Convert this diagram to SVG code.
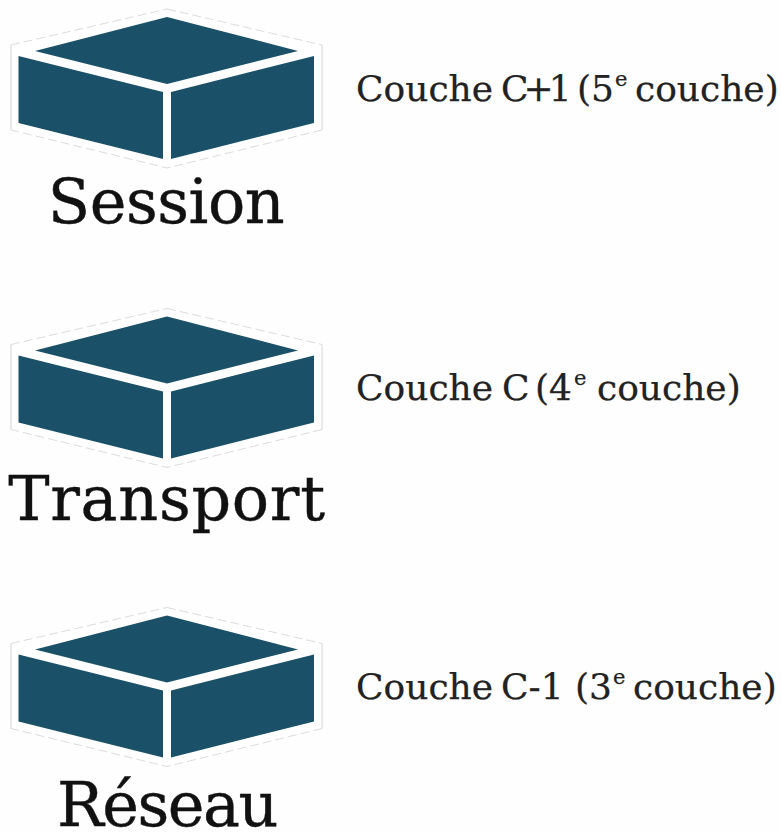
<svg xmlns="http://www.w3.org/2000/svg" width="781" height="832" viewBox="0 0 781 832">
<style>
.b{fill:#fff}
.v{fill:none;stroke:#d4d4d4;stroke-width:1}
.d{fill:none;stroke:#dcdcdc;stroke-width:1;stroke-dasharray:9 4}
.f{fill:#1a5068}
.n{font-family:"DejaVu Serif","Liberation Serif",serif;font-size:62px;fill:#111;stroke:#111;stroke-width:.4;text-anchor:middle}
.l{font-family:"DejaVu Serif","Liberation Serif",serif;font-size:36px;fill:#222;stroke:#222;stroke-width:.25}
.s{font-size:21px}
</style>
<defs>
<g id="box">
<path class="b" d="M167 9L322 45V130L167 168L11 130V45Z"/>
<path class="v" d="M322 45V130M11 130V45"/>
<path class="d" d="M167 9L322 45M322 130L167 168L11 130M11 45L167 9"/>
<path class="f" d="M167 17L298 51L167 84L35 51Z"/>
<path class="f" d="M18.500 56L163 92V159L18.500 123Z"/>
<path class="f" d="M171 92L314 56V123L171 159Z"/>
</g>
</defs>
<rect width="781" height="832" fill="#fefefe"/>
<g id="connectors"/>
<g id="session"><use href="#box"/><text class="n" x="166" y="223" letter-spacing="-.5">Session</text></g>
<g id="transport"><use href="#box" y="299.500"/><text class="n" x="167" y="520" letter-spacing=".7">Transport</text></g>
<g id="reseau"><use href="#box" y="598.500"/><text class="n" x="167" y="826" letter-spacing="-1.5">Réseau</text></g>
<g id="label-c1"><text class="l" x="356" y="101">Couche <tspan x="501" letter-spacing="-5">C+1</tspan> <tspan x="577">(5</tspan><tspan class="s" x="615" dy="-15">e</tspan> <tspan x="635" dy="15">couche)</tspan></text></g>
<g id="label-c"><text class="l" x="356" y="400">Couche <tspan x="502">C</tspan> <tspan x="535">(4</tspan><tspan class="s" x="574" dy="-15">e</tspan> <tspan x="597" dy="15">couche)</tspan></text></g>
<g id="label-c-1"><text class="l" x="356" y="699">Couche <tspan x="501">C-1</tspan> <tspan x="575">(3</tspan><tspan class="s" x="613" dy="-15">e</tspan> <tspan x="633" dy="15">couche)</tspan></text></g>
</svg>
